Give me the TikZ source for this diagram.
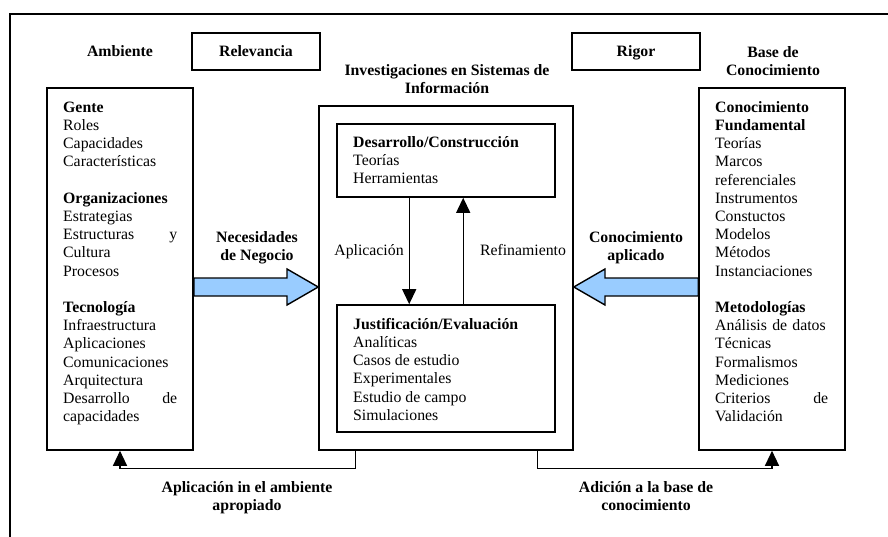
\documentclass[tikz,border=0pt]{standalone}
\usepackage{fontspec}
\setmainfont{Liberation Serif}
\usetikzlibrary{arrows.meta,calc}
\definecolor{arrowblue}{HTML}{99CCFF}
\begin{document}
\begin{tikzpicture}[x=1pt,y=-1pt,
  every node/.style={font=\fontsize{15.8}{18.2}\selectfont, inner sep=0pt},
  frame/.style={draw, line width=1.6pt, minimum width=#1},
  box/.style={draw, line width=1.6pt},
  txt/.style={anchor=north west, align=left},
  lbl/.style={anchor=north, align=center, font=\fontsize{15.8}{18.2}\selectfont\bfseries},
  conn/.style={line width=1.2pt, -{Triangle[width=14pt,length=15pt]}},
  blockarrow/.style={draw, line width=1.4pt, fill=arrowblue, line join=miter}]
\useasboundingbox (0,0) rectangle (888,537);

% outer frame (only its top and left edges fall inside the page)
\draw[line width=1.4pt] (10,537) -- (10,14) -- (888,14);

% header boxes and titles
\node[box, minimum width=128pt, minimum height=37pt] (relev) at (256,51.5) {};
\node[anchor=base, font=\fontsize{15.8}{18.2}\selectfont\bfseries] at (256,57) {Relevancia};
\node[box, minimum width=128pt, minimum height=37pt] (rigor) at (636,51.5) {};
\node[anchor=base, font=\fontsize{15.8}{18.2}\selectfont\bfseries] at (636,57) {Rigor};
\node[anchor=base, font=\fontsize{15.8}{18.2}\selectfont\bfseries] (amb) at (120,57) {Ambiente};
\node[lbl] (basetitle) at (773,44.3) {\strut Base de\\Conocimiento};
\node[lbl] (isrtitle) at (447,62.3) {\strut Investigaciones en Sistemas de\\Información};

% main boxes
\node[box, minimum width=146pt, minimum height=362pt] (env) at (120,269) {};
\node[box, minimum width=254pt, minimum height=344pt] (isr) at (446,278) {};
\node[box, minimum width=218pt, minimum height=73pt] (dev) at (446,160.5) {};
\node[box, minimum width=218pt, minimum height=127pt] (just) at (446,368.5) {};
\node[box, minimum width=146pt, minimum height=362pt] (kb) at (772,269) {};

% box contents
\node[txt, text width=114pt] (envtxt) at (63,99.3) {\strut\textbf{Gente}\\
  Roles\\ Capacidades\\ Características\\[18.2pt]
  \textbf{Organizaciones}\\ Estrategias\\ Estructuras\hfill y\\ Cultura\\ Procesos\\[18.2pt]
  \textbf{Tecnología}\\ Infraestructura\\ Aplicaciones\\ Comunicaciones\\ Arquitectura\\
  Desarrollo\hfill de\\ capacidades};
\node[txt, text width=113pt] (kbtxt) at (715,99.3) {\strut\textbf{Conocimiento}\\
  \textbf{Fundamental}\\ Teorías\\ Marcos\\ referenciales\\ Instrumentos\\ Constuctos\\
  Modelos\\ Métodos\\ Instanciaciones\\[18.2pt]
  \textbf{Metodologías}\\ Análisis de datos\\ Técnicas\\ Formalismos\\ Mediciones\\
  Criterios\hfill de\\ Validación};
\node[txt] (devtxt) at (353,134.3) {\strut\textbf{Desarrollo/Construcción}\\ Teorías\\ Herramientas};
\node[txt] (justtxt) at (353,316.3) {\strut\textbf{Justificación/Evaluación}\\ Analíticas\\
  Casos de estudio\\ Experimentales\\ Estudio de campo\\ Simulaciones};

% inner cycle between the two activities
\draw[conn] ($(dev.south west)+(73,0)$) -- ($(just.north west)+(73,0)$);
\draw[conn] ($(just.north west)+(127,0)$) -- ($(dev.south west)+(127,0)$);
\node[anchor=base] (aplic) at (369,255) {Aplicación};
\node[anchor=base] (refin) at (523,255) {Refinamiento};

% block arrows towards the research box
\draw[blockarrow] ($(env.east)+(0,9)$) -- (287,278) -- (287,269) -- ($(isr.west)+(0,9)$)
  -- (287,305) -- (287,296) -- ($(env.east)+(0,27)$) -- cycle;
\draw[blockarrow] ($(kb.west)+(0,9)$) -- (605,278) -- (605,269) -- ($(isr.east)+(0,9)$)
  -- (605,305) -- (605,296) -- ($(kb.west)+(0,27)$) -- cycle;
\node[lbl] (needs) at (257,229.3) {\strut Necesidades\\de Negocio};
\node[lbl] (applied) at (636,229.3) {\strut Conocimiento\\aplicado};

% feedback connectors below the boxes
\draw[conn] ($(isr.south west)+(37,0)$) -- ++(0,18) -| (env.south);
\draw[conn] ($(isr.south east)+(-36,0)$) -- ++(0,18) -| (kb.south);
\node[lbl] (applabel) at (247,479.3) {\strut Aplicación in el ambiente\\apropiado};
\node[lbl] (addlabel) at (646,479.3) {\strut Adición a la base de\\conocimiento};
\end{tikzpicture}
\end{document}
